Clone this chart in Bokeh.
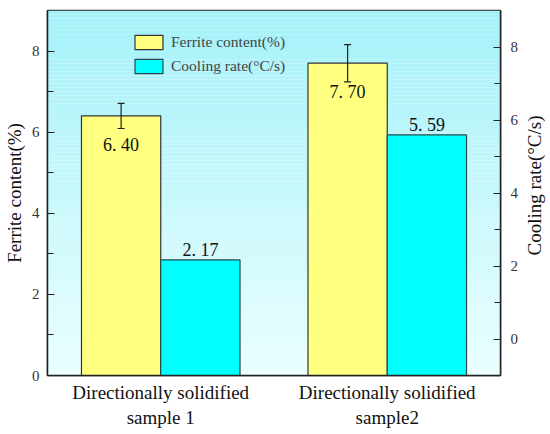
import numpy as np
from bokeh.plotting import figure
from bokeh.models import (Range1d, LinearAxis, FixedTicker, Whisker, TeeHead,
                          ColumnDataSource, Legend, LegendItem, Label)
from bokeh.core.properties import value
from bokeh.embed import file_html
from bokeh.resources import INLINE

# ---- data ----
categories = ["Directionally solidified\nsample 1", "Directionally solidified\nsample2"]
ferrite = [6.40, 7.70]
ferrite_err = [0.31, 0.46]
cooling = [2.17, 5.59]
ferrite_labels = ["6. 40", "7. 70"]
cooling_labels = ["2. 17", "5. 59"]
left_ticks = [0, 2, 4, 6, 8]
right_ticks = [0, 2, 4, 6, 8]
left_title = "Ferrite content(%)"
right_title = "Cooling rate(°C/s)"

FONT = "Liberation Serif"
xpos = [i + 1 for i in range(len(categories))]
bw = 0.35

p = figure(frame_width=453, frame_height=365, output_backend="svg", toolbar_location=None,
           x_range=Range1d(0.5, 2.5), y_range=Range1d(0, 9),
           min_border_left=39, min_border_right=50, min_border_top=10, min_border_bottom=48)
p.extra_y_ranges = {"right": Range1d(-1, 9)}
p.grid.visible = False
p.border_fill_color = "white"
p.outline_line_color = "#222222"
p.outline_line_width = 1.5

# background gradient (decoration)
n = 90
edges = np.linspace(0, 9, n + 1)
top_c = np.array([0xa4, 0xf1, 0xf9])
bot_c = np.array([0xea, 0xff, 0xff])
cols = []
for i in range(n):
    t = (i + 0.5) / n
    c = bot_c + (top_c - bot_c) * t
    cols.append("#%02x%02x%02x" % tuple(int(round(v)) for v in c))
p.quad(left=0.5, right=2.5, bottom=edges[:-1], top=edges[1:], fill_color=cols,
       line_color=None)

# bars
fsrc = ColumnDataSource(dict(x=[x - bw / 2 for x in xpos], top=ferrite,
                             lab=ferrite_labels,
                             lo=[f - e for f, e in zip(ferrite, ferrite_err)],
                             hi=[f + e for f, e in zip(ferrite, ferrite_err)]))
csrc = ColumnDataSource(dict(x=[x + bw / 2 for x in xpos], top=cooling, lab=cooling_labels))

r1 = p.vbar(x="x", top="top", bottom=0, width=bw, source=fsrc,
            fill_color="#ffff80", line_color="#333333", line_width=1.2)
r2 = p.vbar(x="x", top="top", bottom=-1, width=bw, source=csrc, y_range_name="right",
            fill_color="#00ffff", line_color="#2a4a4a", line_width=1.2)

w = Whisker(base="x", lower="lo", upper="hi", source=fsrc, dimension="height",
            line_color="#222222", line_width=1.2, level="overlay",
            upper_head=TeeHead(size=7, line_color="#222222", line_width=1.2),
            lower_head=TeeHead(size=7, line_color="#222222", line_width=1.2))
p.add_layout(w)

p.text(x="x", y="top", text="lab", source=fsrc, text_align="center",
       text_baseline="middle", y_offset=29, text_font=value(FONT),
       text_font_size="18px", text_color="#111111")
p.text(x="x", y="top", text="lab", source=csrc, y_range_name="right",
       text_align="center", text_baseline="middle", y_offset=-10,
       text_font=value(FONT), text_font_size="18px", text_color="#111111")

# axes
def style_axis(ax):
    ax.axis_line_color = "#222222"
    ax.axis_line_width = 1.5
    ax.major_tick_in = 7
    ax.major_tick_out = 0
    ax.minor_tick_in = 6
    ax.minor_tick_out = 0
    ax.major_tick_line_color = "#222222"
    ax.minor_tick_line_color = "#222222"
    ax.major_tick_line_width = 1.2
    ax.minor_tick_line_width = 1.2
    ax.major_label_text_font = FONT
    ax.major_label_text_font_size = "15px"
    ax.major_label_text_color = "#333333"
    ax.axis_label_text_font = FONT
    ax.axis_label_text_font_size = "19px"
    ax.axis_label_text_font_style = "normal"
    ax.axis_label_text_color = "#111111"

ly = p.yaxis[0]
ly.ticker = FixedTicker(ticks=left_ticks, minor_ticks=[1, 3, 5, 7])
ly.axis_label = left_title
style_axis(ly)
ly.major_label_standoff = 8
ly.axis_label_standoff = 4

ry = LinearAxis(y_range_name="right")
ry.ticker = FixedTicker(ticks=right_ticks, minor_ticks=[1, 3, 5, 7])
style_axis(ry)
ry.major_label_standoff = 10
p.add_layout(ry, "right")

# right axis title, reading bottom-to-top like the left one
p.add_layout(Label(x=13, y=190, x_units="screen", y_units="screen", text=right_title,
                   angle=np.pi / 2, text_align="center", text_baseline="middle",
                   text_font=FONT, text_font_size="19px", text_color="#111111"), "right")

bx = p.xaxis[0]
bx.ticker = FixedTicker(ticks=xpos, minor_ticks=[])
bx.major_label_overrides = {x: c for x, c in zip(xpos, categories)}
style_axis(bx)
bx.major_tick_line_color = None
bx.minor_tick_line_color = None
bx.major_label_text_font = "'Liberation Serif'"
bx.major_label_text_font_size = "19px"
bx.major_label_text_line_height = 1.2
bx.major_label_text_color = "#111111"
bx.major_label_standoff = 6

legend = Legend(items=[LegendItem(label="Ferrite content(%)", renderers=[r1]),
                       LegendItem(label="Cooling rate(°C/s)", renderers=[r2])],
                location=(84, 300), padding=0, spacing=6, margin=0,
                glyph_width=35, glyph_height=18, label_height=18, label_standoff=5,
                label_text_font=FONT, label_text_font_size="15.5px",
                background_fill_alpha=0, border_line_color=None)
p.add_layout(legend)

open("out.html", "w").write(file_html(p, INLINE))
